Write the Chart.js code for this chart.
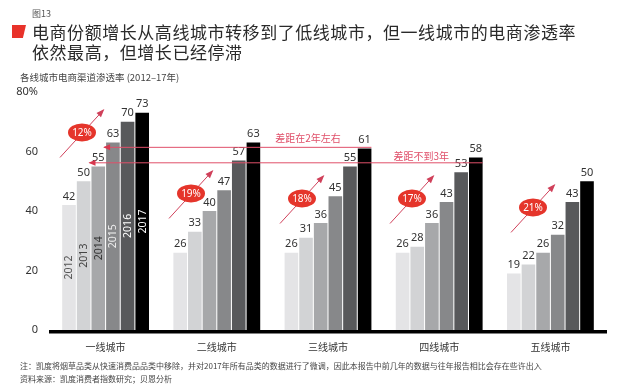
<!DOCTYPE html>
<html>
<head>
<meta charset="utf-8">
<script src="https://cdn.jsdelivr.net/npm/chart.js@4.4.1/dist/chart.umd.min.js"></script>
<style>
  body { margin: 0; background: #fff; }
  #wrap { position: relative; width: 640px; height: 391px; overflow: hidden; font-family: "Noto Sans CJK SC", "Noto Sans", sans-serif; }
  #chart { position: absolute; left: 0; top: 0; }
  .txt { position: absolute; white-space: nowrap; color: #333; }
  #fig { left: 32px; top: 7px; font-size: 9px; color: #555; }
  #mark { left: 12px; top: 25px; width: 14px; height: 13px; background: #e8322a; clip-path: polygon(0 0, 100% 0, 78% 100%, 0 100%); }
  #title { left: 32px; top: 22px; font-size: 17px; line-height: 20px; color: #2a2a2a; letter-spacing: 0.55px; }
  #sub { left: 20px; top: 70px; font-size: 9.5px; color: #444; }
  #note { left: 20px; top: 359px; font-size: 8px; line-height: 13px; color: #444; }
</style>
</head>
<body>
<div id="wrap">
  <canvas id="chart" width="640" height="391"></canvas>
  <div class="txt" id="fig">图13</div>
  <div id="mark" style="position:absolute"></div>
  <div class="txt" id="title">电商份额增长从高线城市转移到了低线城市，但一线城市的电商渗透率<br>依然最高，但增长已经停滞</div>
  <div class="txt" id="sub">各线城市电商渠道渗透率 (2012–17年)</div>
  <div class="txt" id="note">注：凯度将烟草品类从快速消费品品类中移除，并对2017年所有品类的数据进行了微调，因此本报告中前几年的数据与往年报告相比会存在些许出入<br>资料来源：凯度消费者指数研究；贝恩分析</div>
</div>
<script>
// data
const categories = ['一线城市', '二线城市', '三线城市', '四线城市', '五线城市'];
const years = ['2012', '2013', '2014', '2015', '2016', '2017'];
const v2012 = [42, 26, 26, 26, 19];
const v2013 = [50, 33, 31, 28, 22];
const v2014 = [55, 40, 36, 36, 26];
const v2015 = [63, 47, 45, 43, 32];
const v2016 = [70, 57, 55, 53, 43];
const v2017 = [73, 63, 61, 58, 50];
const growth = ['12%', '19%', '18%', '17%', '21%'];
const gapNotes = ['差距在2年左右', '差距不到3年'];
const yTicks = [0, 20, 40, 60, 80];

const series = [v2012, v2013, v2014, v2015, v2016, v2017];
const barColors = ['#e4e4e6', '#d2d3d5', '#a7a8aa', '#87888a', '#58595b', '#000000'];
const yearColors = ['#555', '#444', '#333', '#eee', '#fff', '#fff'];

const numFont = '11px "Noto Sans", sans-serif';
const red = '#e0506a';

// annotations drawn on top of bars
const annotations = {
  id: 'annotations',
  afterDatasetsDraw(chart) {
    const ctx = chart.ctx;
    const xs = chart.scales.x, ys = chart.scales.y, area = chart.chartArea;

    // thick baseline
    ctx.save();
    ctx.fillStyle = '#000';
    ctx.fillRect(area.left - 1, area.bottom, area.right - area.left + 2, 3.5);

    // value labels + year labels inside first group
    chart.data.datasets.forEach((ds, i) => {
      const meta = chart.getDatasetMeta(i);
      ctx.font = numFont;
      ctx.fillStyle = '#333';
      ctx.textAlign = 'center';
      ctx.textBaseline = 'bottom';
      meta.data.forEach((bar, j) => {
        ctx.fillText(ds.data[j], bar.x, bar.y - 3);
      });
      const b = meta.data[0];
      ctx.save();
      ctx.translate(b.x + 0.5, (b.y + b.base) / 2);
      ctx.rotate(-Math.PI / 2);
      ctx.font = '10.5px "Noto Sans", sans-serif';
      ctx.fillStyle = yearColors[i];
      ctx.textBaseline = 'middle';
      ctx.fillText(ds.label, 0, 0);
      ctx.restore();
    });

    // gap lines
    const edge = (ds, idx, side) => {
      const b = chart.getDatasetMeta(ds).data[idx];
      return b.x + side * b.width / 2;
    };
    const gapLine = (x0, x1, val, note, noteX, noteDy) => {
      const yy = ys.getPixelForValue(val);
      ctx.strokeStyle = red;
      ctx.lineWidth = 1;
      ctx.beginPath();
      ctx.moveTo(x0, yy);
      ctx.lineTo(x1, yy);
      ctx.stroke();
      ctx.fillStyle = '#d8384f';
      ctx.beginPath();
      ctx.moveTo(x0 - 1, yy);
      ctx.lineTo(x0 + 6, yy - 3);
      ctx.lineTo(x0 + 6, yy + 3);
      ctx.closePath();
      ctx.fill();
      ctx.font = '10px "Noto Sans CJK SC", sans-serif';
      ctx.fillStyle = red;
      ctx.textAlign = 'center';
      ctx.textBaseline = 'middle';
      ctx.fillText(note, noteX, yy + noteDy);
    };
    gapLine(edge(3, 0, -1) - 2, edge(5, 2, 1), 61.4, gapNotes[0], xs.getPixelForValue(2) - 20, -9);
    gapLine(edge(2, 0, -1) - 2, edge(5, 3, 1), 56.2, gapNotes[1], xs.getPixelForValue(3) - 18, -7);

    // growth arrows with red ovals
    const dx = [-23.6, -25.8, -26, -27.2, -17.4];
    const gy = [66.4, 45.9, 44.2, 44.2, 41.2];
    growth.forEach((g, i) => {
      const cx = xs.getPixelForValue(i) + dx[i];
      const cy = ys.getPixelForValue(gy[i]);
      const sx = cx - 22, sy = cy + 25, ex = cx + 21, ey = cy - 22;
      ctx.strokeStyle = '#d0405a';
      ctx.lineWidth = 1;
      ctx.beginPath();
      ctx.moveTo(sx, sy);
      ctx.lineTo(ex, ey);
      ctx.stroke();
      const ang = Math.atan2(ey - sy, ex - sx);
      ctx.fillStyle = '#d0405a';
      ctx.beginPath();
      ctx.moveTo(ex + Math.cos(ang) * 2, ey + Math.sin(ang) * 2);
      ctx.lineTo(ex - Math.cos(ang - 0.45) * 7, ey - Math.sin(ang - 0.45) * 7);
      ctx.lineTo(ex - Math.cos(ang + 0.45) * 7, ey - Math.sin(ang + 0.45) * 7);
      ctx.closePath();
      ctx.fill();
      ctx.fillStyle = '#e5352b';
      ctx.beginPath();
      ctx.ellipse(cx, cy, 14, 9, 0, 0, Math.PI * 2);
      ctx.fill();
      ctx.fillStyle = '#fff';
      ctx.font = '10px "Noto Sans", sans-serif';
      ctx.textAlign = 'center';
      ctx.textBaseline = 'middle';
      ctx.fillText(g, cx, cy + 0.5);
    });
    ctx.restore();
  }
};

new Chart(document.getElementById('chart'), {
  type: 'bar',
  data: {
    labels: categories,
    datasets: years.map((yr, i) => ({
      label: yr,
      data: series[i],
      backgroundColor: barColors[i],
      borderWidth: 0,
      categoryPercentage: 0.79,
      barPercentage: 0.93
    }))
  },
  options: {
    responsive: false,
    devicePixelRatio: 1,
    animation: false,
    layout: { padding: { left: 4, right: 34, top: 92, bottom: 11 } },
    plugins: { legend: { display: false }, tooltip: { enabled: false } },
    scales: {
      x: {
        grid: { display: false },
        border: { display: false },
        ticks: { color: '#333', font: { family: '"Noto Sans CJK SC"', size: 10 }, padding: 3 },
        afterFit: s => { s.height = 50; }
      },
      y: {
        min: 0,
        max: 80,
        afterBuildTicks: s => { s.ticks = yTicks.map(v => ({ value: v })); },
        grid: { display: false, drawTicks: false },
        border: { display: false },
        ticks: {
          color: '#333',
          font: { family: '"Noto Sans"', size: 11 },
          padding: 12,
          callback: v => v === 80 ? '80%' : v
        },
        afterFit: s => { s.width = 46; }
      }
    }
  },
  plugins: [annotations]
});
</script>
</body>
</html>
